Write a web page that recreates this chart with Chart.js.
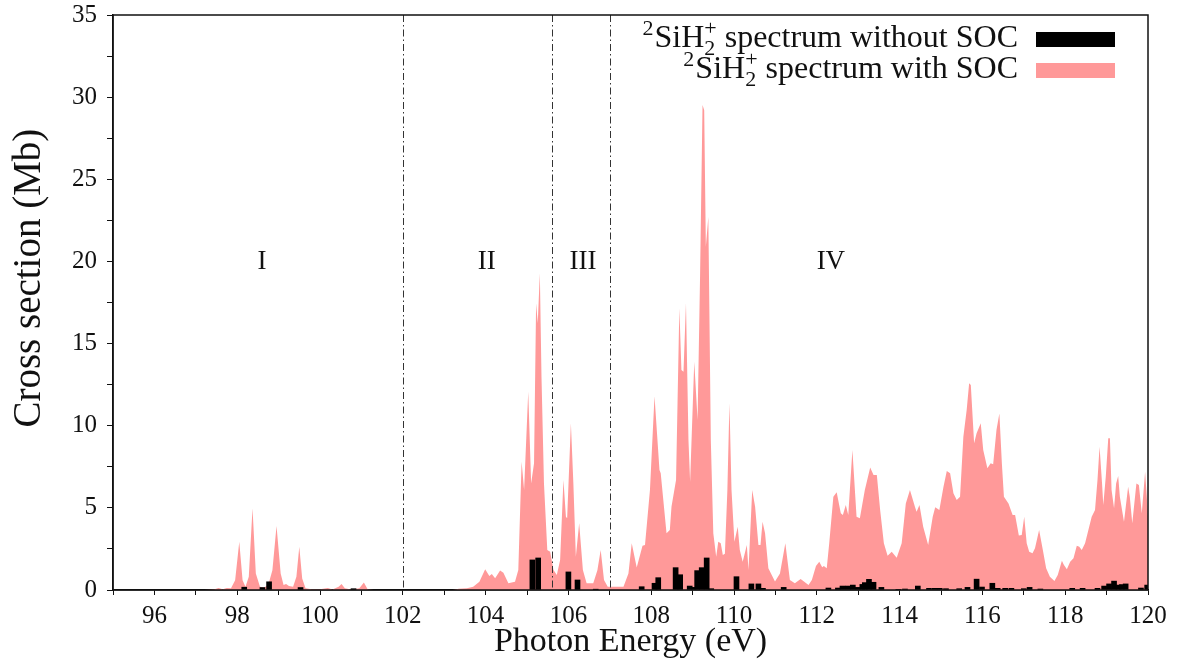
<!DOCTYPE html>
<html><head><meta charset="utf-8">
<script src="https://cdn.jsdelivr.net/npm/chart.js@4/dist/chart.umd.min.js"></script>
<style>html,body{margin:0;padding:0;background:#fff;}</style>
</head><body>
<canvas id="c" width="1179" height="669"></canvas>
<script>
// ---- data ----
const spectrumX = [95.0,97.2,97.45,97.55,97.65,97.75,97.85,97.95,98.05,98.13,98.2,98.28,98.37,98.45,98.55,98.65,98.75,98.85,98.95,99.05,99.12,99.18,99.25,99.35,99.43,99.50,99.57,99.65,99.8,100.0,100.19,100.3,100.45,100.52,100.6,100.75,100.95,101.06,101.15,101.3,103.2,103.35,103.55,103.7,103.85,103.99,104.09,104.15,104.23,104.35,104.43,104.55,104.71,104.79,104.87,104.93,105.03,105.10,105.17,105.22,105.26,105.31,105.35,105.41,105.49,105.56,105.64,105.72,105.80,105.88,105.94,105.97,106.06,106.12,106.18,106.26,106.35,106.44,106.60,106.70,106.78,106.86,106.95,107.33,107.45,107.53,107.65,107.79,107.85,107.97,108.08,108.20,108.23,108.37,108.45,108.49,108.60,108.68,108.73,108.78,108.84,108.90,108.94,109.04,109.12,109.18,109.24,109.28,109.32,109.38,109.44,109.50,109.57,109.62,109.68,109.73,109.78,109.84,109.89,109.94,110.01,110.09,110.14,110.21,110.31,110.35,110.44,110.51,110.59,110.64,110.69,110.75,110.83,110.99,111.11,111.24,111.35,111.47,111.61,111.80,111.88,111.98,112.06,112.13,112.17,112.24,112.30,112.40,112.48,112.58,112.63,112.70,112.76,112.86,112.96,113.04,113.16,113.29,113.37,113.45,113.53,113.62,113.71,113.81,113.93,114.05,114.15,114.25,114.37,114.41,114.48,114.57,114.69,114.80,114.86,114.96,115.06,115.14,115.22,115.30,115.38,115.46,115.54,115.62,115.68,115.72,115.80,115.86,115.96,116.02,116.12,116.20,116.26,116.34,116.41,116.47,116.52,116.63,116.73,116.79,116.88,116.95,117.01,117.07,117.13,117.21,117.27,117.37,117.46,117.54,117.63,117.74,117.82,117.92,117.97,118.04,118.12,118.20,118.28,118.34,118.40,118.48,118.56,118.64,118.72,118.78,118.83,118.89,118.92,118.98,119.04,119.08,119.12,119.18,119.23,119.28,119.32,119.42,119.52,119.56,119.62,119.72,119.78,119.85,119.93,119.97,120.0];
const spectrumY = [0,0,0.05,0.12,0.05,0.12,0.1,0.6,2.94,0.6,0.2,0.8,4.97,1.0,0.2,0.15,0.3,1.2,3.9,1.0,0.3,0.37,0.25,0.2,0.8,2.64,0.7,0.1,0.05,0.05,0.12,0.03,0.2,0.37,0.1,0.03,0.1,0.45,0.05,0,0,0.08,0.1,0.2,0.5,1.26,0.85,0.97,0.71,1.18,1.05,0.41,0.5,1.22,7.81,6.09,12.07,6.49,7.71,17.45,16.23,19.28,12.98,6.49,2.43,2.33,1.22,0.91,1.83,6.70,4.46,4.36,10.15,6.49,2.03,4.06,1.22,0.41,0.41,1.2,2.43,0.61,0.2,0.2,1.0,2.84,1.37,2.7,2.74,6.09,11.8,7.3,7.1,3.45,3.65,5.07,6.70,17.15,13.39,13.29,17.45,9.13,6.59,13.9,10.35,19.07,29.52,29.2,20.9,22.7,9.13,3.45,2.03,2.94,2.84,2.13,2.2,6.09,11.36,6.09,2.94,3.85,2.43,1.72,2.74,1.22,6.09,5.07,2.74,2.74,4.16,3.45,1.32,0.51,1.0,2.84,0.61,0.41,0.67,0.30,0.61,1.46,1.72,1.38,1.46,1.32,2.84,5.68,5.95,4.67,4.56,5.17,4.56,8.52,4.46,4.36,6.09,7.45,7.0,7.0,4.87,2.84,2.09,2.33,1.97,2.84,5.27,6.09,5.07,4.77,5.17,3.85,2.74,4.46,5.03,4.87,6.29,7.24,7.1,5.89,5.48,5.68,9.33,10.96,12.58,12.48,8.93,9.54,10.15,8.52,7.41,7.71,7.65,9.74,10.75,7.71,5.68,5.27,4.56,4.56,3.31,3.35,4.46,2.84,2.33,2.23,2.54,3.65,2.43,1.32,0.81,0.55,0.91,1.78,1.52,1.26,1.72,1.93,2.70,2.64,2.43,2.84,3.65,4.46,4.87,6.70,8.72,6.49,5.17,6.90,9.23,9.23,6.09,4.97,6.49,6.94,5.68,4.16,6.29,5.68,4.06,6.49,6.39,4.67,7.20,5.68,4.46];
const barX = [98.17,98.61,98.77,99.53,100.81,105.13,105.27,106.00,106.22,106.66,107.77,108.08,108.17,108.59,108.70,108.93,109.02,109.11,109.22,109.34,109.45,110.06,110.42,110.59,110.70,111.20,112.28,112.51,112.62,112.75,112.87,112.99,113.10,113.16,113.26,113.37,113.56,113.97,114.13,114.44,114.71,114.85,114.97,115.12,115.44,115.64,115.86,115.99,116.24,116.37,116.55,116.70,117.00,117.14,117.40,118.17,118.42,118.78,118.94,119.06,119.18,119.29,119.37,119.46,119.83,119.98];
const barY = [0.17,0.15,0.5,0.15,0.08,1.83,1.95,1.1,0.61,0.05,0.2,0.41,0.75,1.36,0.93,0.24,0.16,1.18,1.36,1.95,0.08,0.81,0.37,0.37,0.1,0.16,0.12,0.12,0.24,0.24,0.3,0.16,0.34,0.45,0.65,0.47,0.16,0.04,0.06,0.24,0.1,0.1,0.1,0.08,0.08,0.16,0.66,0.18,0.41,0.1,0.1,0.1,0.08,0.16,0.06,0.1,0.1,0.1,0.24,0.37,0.54,0.3,0.33,0.37,0.12,0.3];
const xRange = [95, 120];
const yRange = [0, 35];
const regionLabels = ['I', 'II', 'III', 'IV'];
const regionX = [98.6, 104.03, 106.35, 112.34];
const regionY = 20;
const dividerX = [102, 105.6, 107.0];
const seriesNames = ['spectrum without SOC', 'spectrum with SOC'];
const xTitle = 'Photon Energy (eV)';
const yTitle = 'Cross section (Mb)';

// ---- styling ----
const SERIF = '"Liberation Serif", "Times New Roman", serif';
const PINK = '#ff9999';

const framePlugin = {
  id: 'frame',
  afterDraw(chart) {
    const {ctx, chartArea: a} = chart;
    ctx.save();
    ctx.strokeStyle = '#111';
    ctx.lineWidth = 1.5;
    ctx.strokeRect(a.left, a.top, a.right - a.left, a.bottom - a.top);
    ctx.restore();
  }
};

const dividerPlugin = {
  id: 'dividers',
  afterDatasetsDraw(chart) {
    const {ctx, chartArea: a, scales: {x, y}} = chart;
    ctx.save();
    ctx.strokeStyle = '#333';
    ctx.lineWidth = 1;
    ctx.setLineDash([7, 3, 1.5, 3]);
    dividerX.forEach(v => {
      const px = Math.round(x.getPixelForValue(v)) + 0.5;
      ctx.beginPath();
      ctx.moveTo(px, a.top);
      ctx.lineTo(px, a.bottom);
      ctx.stroke();
    });
    ctx.setLineDash([]);
    ctx.fillStyle = '#111';
    ctx.font = '27px ' + SERIF;
    ctx.textAlign = 'center';
    ctx.textBaseline = 'middle';
    regionLabels.forEach((t, i) => {
      ctx.fillText(t, x.getPixelForValue(regionX[i]), y.getPixelForValue(regionY));
    });
    ctx.restore();
  }
};

function drawFormulaLine(ctx, rightX, baseY, rest, F) {
  const big = F + 'px ' + SERIF;
  const small = Math.round(F * 0.7) + 'px ' + SERIF;
  ctx.font = big;
  const wRest = ctx.measureText(' ' + rest).width;
  const wSiH = ctx.measureText('SiH').width;
  ctx.font = small;
  const wSup2 = ctx.measureText('2').width;
  const wPlus = ctx.measureText('+').width;
  const wSS = Math.max(wSup2, wPlus);
  let x = rightX - wRest - wSS - wSiH - wSup2 - 1;
  ctx.textAlign = 'left';
  ctx.textBaseline = 'alphabetic';
  ctx.font = small;
  ctx.fillText('2', x, baseY - F * 0.38);
  x += wSup2 + 1;
  ctx.font = big;
  ctx.fillText('SiH', x, baseY);
  x += wSiH;
  ctx.font = small;
  ctx.fillText('+', x, baseY - F * 0.38);
  ctx.fillText('2', x, baseY + F * 0.26);
  x += wSS;
  ctx.font = big;
  ctx.fillText(' ' + rest, x, baseY);
}

const legendPlugin = {
  id: 'customLegend',
  afterDraw(chart) {
    const {ctx} = chart;
    ctx.save();
    const rows = [
      {name: seriesNames[0], color: '#000', base: 47},
      {name: seriesNames[1], color: PINK, base: 78}
    ];
    rows.forEach(r => {
      ctx.fillStyle = '#111';
      drawFormulaLine(ctx, 1018, r.base, r.name, 32);
      ctx.fillStyle = r.color;
      ctx.fillRect(1036, r.base - 15, 79, 15);
    });
    ctx.restore();
  }
};

const spectrumData = spectrumX.map((v, i) => ({x: v, y: spectrumY[i]}));
const barData = barX.map((v, i) => ({x: v, y: barY[i]}));

new Chart(document.getElementById('c'), {
  type: 'bar',
  data: {
    datasets: [
      {
        type: 'bar',
        label: seriesNames[0],
        data: barData,
        backgroundColor: '#000',
        borderWidth: 0,
        barThickness: 5,
        order: 0
      },
      {
        type: 'line',
        label: seriesNames[1],
        data: spectrumData,
        backgroundColor: PINK,
        borderColor: PINK,
        borderWidth: 0,
        pointRadius: 0,
        tension: 0,
        fill: 'origin',
        order: 1
      }
    ]
  },
  options: {
    responsive: false,
    animation: false,
    devicePixelRatio: 1,
    layout: {padding: {top: 15, right: 31, left: 0, bottom: 0}},
    plugins: {legend: {display: false}, tooltip: {enabled: false}},
    scales: {
      x: {
        type: 'linear',
        min: xRange[0], max: xRange[1],
        offset: false,
        grid: {display: true, drawOnChartArea: false, offset: false, color: '#111', tickLength: 5},
        border: {display: true, color: '#111', width: 1.5},
        ticks: {
          stepSize: 1, autoSkip: false, maxRotation: 0, padding: 6,
          color: '#111', font: {family: SERIF, size: 25},
          callback: v => (v % 2 === 0 ? String(v) : '')
        },
        title: {display: true, text: xTitle, color: '#111', font: {family: SERIF, size: 34}, padding: {top: 0, bottom: 7}},
        afterFit: s => { s.height = 79; s.paddingLeft = 0; s.paddingRight = 0; }
      },
      y: {
        min: yRange[0], max: yRange[1],
        grid: {display: true, drawOnChartArea: false, color: '#111', tickLength: 6},
        border: {display: true, color: '#111', width: 1.5},
        ticks: {
          stepSize: 2.5, autoSkip: false, padding: 10,
          color: '#111', font: {family: SERIF, size: 25},
          callback: v => (v % 5 === 0 ? String(v) : '')
        },
        title: {display: true, text: '     ' + yTitle, color: '#111', font: {family: SERIF, size: 39}, padding: {top: 6, bottom: 0}},
        afterFit: s => { s.width = 113; s.paddingTop = 0; s.paddingBottom = 0; }
      }
    }
  },
  plugins: [framePlugin, dividerPlugin, legendPlugin]
});
</script>
</body></html>
